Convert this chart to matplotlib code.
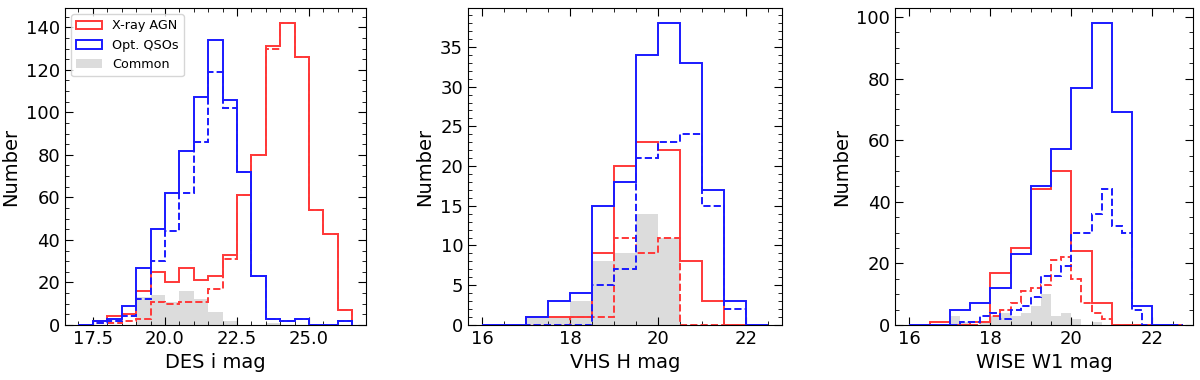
import numpy as np
import matplotlib
matplotlib.use('Agg')
import matplotlib.pyplot as plt
from matplotlib.ticker import AutoMinorLocator

# panel 1 : DES i mag, 0.5 mag bins from 17.0 to 26.5
des_edges = np.arange(17.0, 26.51, 0.5)
des_xray = [0, 2, 4, 5, 16, 25, 20, 27, 21, 23, 33, 61, 80, 131, 142, 126, 54, 43, 7]
des_xray_sub = [0, 1, 1, 2, 3, 11, 10, 11, 11, 17, 31, 61, 80, 130, 142, 126, 54, 43, 7]
des_qso = [0, 2, 3, 9, 27, 45, 62, 82, 107, 134, 106, 72, 23, 3, 2, 3, 0, 0, 2]
des_qso_sub = [0, 1, 2, 4, 12, 30, 44, 62, 86, 119, 102, 72, 23, 3, 2, 3, 0, 0, 2]
des_common = [0, 0, 0, 0, 13, 14, 11, 16, 12, 6, 2, 0, 0, 1, 0, 0, 0, 0, 0]

# panel 2 : VHS H mag, 0.5 mag bins from 16.0 to 22.5
vhs_edges = np.arange(16.0, 22.51, 0.5)
vhs_xray = [0, 0, 1, 1, 1, 9, 20, 23, 22, 8, 3, 0, 0]
vhs_xray_sub = [0, 0, 0, 0, 1, 1, 11, 9, 11, 0, 0, 0, 0]
vhs_qso = [0, 0, 1, 3, 4, 15, 18, 34, 38, 33, 17, 3, 0]
vhs_qso_sub = [0, 0, 0, 0, 0, 5, 7, 21, 23, 24, 15, 2, 0]
vhs_common = [0, 0, 1, 1, 3, 8, 9, 14, 11, 0, 0, 0, 0]

# panel 3 : WISE W1 mag, 0.5 mag bins (all) and 0.25 mag bins (subsets, common)
w1_edges = np.arange(16.0, 22.51, 0.5)
w1_fine_edges = np.arange(16.0, 22.76, 0.25)
w1_xray = [0, 1, 0, 1, 17, 25, 44, 50, 24, 7, 0, 0, 0]
w1_qso = [0, 0, 5, 7, 12, 23, 45, 57, 77, 98, 69, 6, 0]
w1_xray_sub = [0, 0, 0, 0, 0, 0, 0, 1, 3, 5, 7, 11, 12, 13, 21, 22, 15, 7, 4, 2, 0, 0, 0, 0, 0, 0, 0]
w1_qso_sub = [0, 0, 0, 0, 0, 1, 1, 3, 4, 2, 5, 6, 9, 16, 16, 19, 30, 30, 36, 44, 32, 30, 5, 0, 0, 0, 0]
w1_common = [0, 0, 0, 0, 3, 1, 0, 1, 3, 4, 3, 4, 6, 10, 3, 4, 2, 0, 1, 0, 0, 0, 0, 0, 0, 0, 0]

red = (1.0, 0.22, 0.22)
blue = (0.1, 0.1, 1.0)
grey = '#dcdcdc'


def hstep(ax, edges, counts, **kw):
  edges = np.asarray(edges)
  ax.hist(edges[:-1], bins=edges, weights=counts, histtype='step', lw=1.4, **kw)


def style(ax, xlabel, xlim):
  ax.set_xlim(xlim)
  ax.set_ylim(bottom=0)
  ax.set_xlabel(xlabel, fontsize=14)
  ax.set_ylabel('Number', fontsize=14)
  ax.xaxis.set_minor_locator(AutoMinorLocator())
  ax.yaxis.set_minor_locator(AutoMinorLocator())
  ax.tick_params(which='both', direction='in', top=True, right=True, labelsize=13)
  ax.tick_params(which='major', length=6)
  ax.tick_params(which='minor', length=3)


fig = plt.figure(figsize=(12, 3.8), dpi=100)
ax1 = fig.add_axes([0.054, 0.145, 0.251, 0.834])
ax2 = fig.add_axes([0.390, 0.145, 0.262, 0.834])
ax3 = fig.add_axes([0.746, 0.145, 0.248, 0.834])

# DES i
e = des_edges
ax1.hist(e[:-1], bins=e, weights=des_common, histtype='stepfilled', color=grey, label='Common', zorder=1)
hstep(ax1, e, des_xray, color=red, label='X-ray AGN', zorder=2)
hstep(ax1, e, des_xray_sub, color=red, ls='--', zorder=2)
hstep(ax1, e, des_qso, color=blue, label='Opt. QSOs', zorder=3)
hstep(ax1, e, des_qso_sub, color=blue, ls='--', zorder=3)
style(ax1, 'DES i mag', (16.525, 26.975))
ax1.set_xticks([17.5, 20.0, 22.5, 25.0])
ax1.xaxis.set_minor_locator(AutoMinorLocator(5))
h, l = ax1.get_legend_handles_labels()
order = [l.index('X-ray AGN'), l.index('Opt. QSOs'), l.index('Common')]
ax1.legend([h[i] for i in order], [l[i] for i in order], loc='upper left', fontsize=9.2)

# VHS H
e = vhs_edges
ax2.hist(e[:-1], bins=e, weights=vhs_common, histtype='stepfilled', color=grey, zorder=1)
hstep(ax2, e, vhs_xray, color=red, zorder=2)
hstep(ax2, e, vhs_xray_sub, color=red, ls='--', zorder=2)
hstep(ax2, e, vhs_qso, color=blue, zorder=3)
hstep(ax2, e, vhs_qso_sub, color=blue, ls='--', zorder=3)
style(ax2, 'VHS H mag', (15.675, 22.825))
ax2.set_xticks([16, 18, 20, 22])
ax2.xaxis.set_minor_locator(AutoMinorLocator(4))

# WISE W1
ef = w1_fine_edges
ax3.hist(ef[:-1], bins=ef, weights=w1_common, histtype='stepfilled', color=grey, zorder=1)
hstep(ax3, w1_edges, w1_xray, color=red, zorder=2)
hstep(ax3, ef, w1_xray_sub, color=red, ls='--', zorder=2)
hstep(ax3, w1_edges, w1_qso, color=blue, zorder=3)
hstep(ax3, ef, w1_qso_sub, color=blue, ls='--', zorder=3)
style(ax3, 'WISE W1 mag', (15.65, 23.0))
ax3.set_xticks([16, 18, 20, 22])
ax3.xaxis.set_minor_locator(AutoMinorLocator(4))

fig.savefig('out.png', dpi=100)
